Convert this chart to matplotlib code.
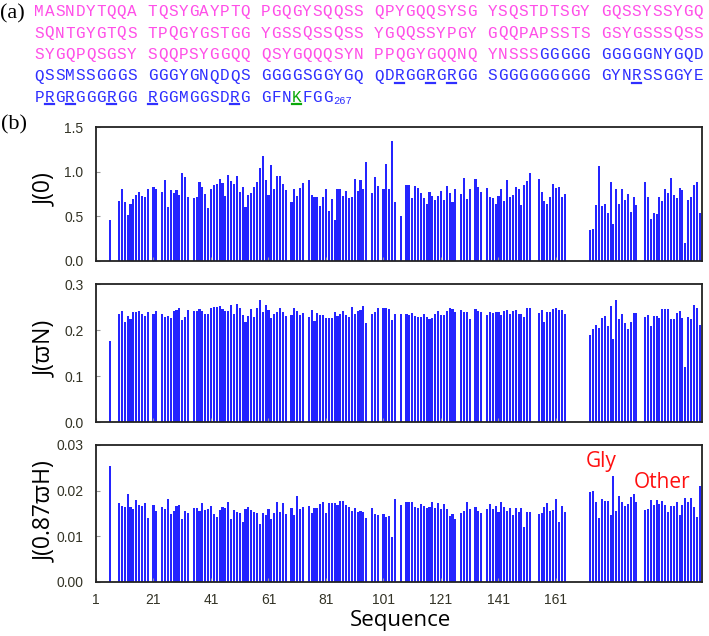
import matplotlib.pyplot as plt
from matplotlib.lines import Line2D

# ---- (a) sequence ----
seq_lines = [
    "MASNDYTQQA TQSYGAYPTQ PGQGYSQQSS QPYGQQSYSG YSQSTDTSGY GQSSYSSYGQ",
    "SQNTGYGTQS TPQGYGSTGG YGSSQSSQSS YGQQSSYPGY GQQPAPSSTS GSYGSSSQSS",
    "SYGQPQSGSY SQQPSYGGQQ QSYGQQQSYN PPQGYGQQNQ YNSSSGGGGG GGGGGNYGQD",
    "QSSMSSGGGS GGGYGNQDQS GGGGSGGYGQ QDRGGRGRGG SGGGGGGGGG GYNRSSGGYE",
    "PRGRGGGRGG RGGMGGSDRG GFNKFGG",
]
last_pink = 165
underlined = [213, 216, 218, 234, 242, 244, 248, 251, 259, 264]
green_res = 264

# ---- (b) spectral densities ----
residues = ([6] + list(range(9, 20)) + [21, 22] + list(range(24, 34))
            + list(range(35, 68)) + list(range(69, 74)) + list(range(75, 96))
            + list(range(97, 100)) + list(range(101, 106)) + [107]
            + list(range(109, 127)) + list(range(128, 132)) + list(range(133, 136))
            + list(range(137, 153)) + list(range(155, 165))
            + list(range(173, 190)) + list(range(192, 212)))

j0 = [0.46,
      0.67, 0.80, 0.66, 0.51, 0.64, 0.69, 0.74, 0.77, 0.73, 0.71, 0.80,
      0.83, 0.81,
      0.77, 0.91, 0.60, 0.79, 0.76, 0.79, 0.74, 0.99, 0.94, 0.71,
      0.70, 0.72, 0.885, 0.83, 0.75, 0.59, 0.81, 0.85, 0.86, 0.92, 0.87, 0.73,
      0.96, 0.89, 0.86, 0.955, 0.77, 0.83, 0.60, 0.74, 0.76, 0.83, 0.88, 1.04,
      1.18, 0.91, 0.74, 1.07, 0.81, 0.955, 0.955, 0.86, 0.79,
      0.66, 0.80, 0.73, 0.82, 0.87,
      0.91, 0.74, 0.72, 0.72, 0.61, 0.71, 0.80, 0.56, 0.69, 0.46, 0.80, 0.80,
      0.73, 0.78, 0.70, 0.72, 0.92, 0.78, 0.91, 0.80, 1.11,
      0.76, 0.94, 0.84,
      0.81, 1.09, 0.80, 1.35, 0.66,
      0.50,
      0.85, 0.855, 0.70, 0.84, 0.82, 0.76, 0.70, 0.64, 0.77, 0.73, 0.68, 0.73,
      0.785, 0.68, 0.84, 0.755, 0.655, 0.80,
      0.75, 0.93, 0.69, 0.80,
      0.915, 0.83, 0.77,
      0.82, 0.72, 0.70, 0.64, 0.73, 0.80, 0.67, 0.91, 0.72, 0.74, 0.83, 0.81,
      0.63, 0.845, 0.90, 0.99,
      0.92, 0.77, 0.67, 0.64, 0.71, 0.86, 0.82, 0.83, 0.715, 0.745,
      0.34, 0.36, 0.63, 1.06, 0.61, 0.64, 0.54, 0.88, 0.41, 0.80, 0.64, 0.81,
      0.685, 0.75, 0.55, 0.71, 0.63,
      0.885, 0.71, 0.47, 0.54, 0.52, 0.715, 0.67, 0.81, 0.76, 0.93, 0.74, 0.70,
      0.82, 0.79, 0.20, 0.685, 0.715, 0.845, 0.885, 0.53]

j_wn = [0.177,
        0.236, 0.242, 0.219, 0.231, 0.224, 0.239, 0.239, 0.242, 0.236, 0.231, 0.239,
        0.236, 0.241,
        0.236, 0.228, 0.232, 0.227, 0.241, 0.244, 0.248, 0.223, 0.228, 0.244,
        0.242, 0.242, 0.246, 0.241, 0.235, 0.235, 0.248, 0.251, 0.251, 0.252, 0.247,
        0.242, 0.242, 0.254, 0.235, 0.258, 0.248, 0.234, 0.217, 0.231, 0.247, 0.228,
        0.248, 0.265, 0.239, 0.254, 0.244, 0.227, 0.236, 0.240, 0.249, 0.240, 0.232,
        0.233, 0.249, 0.243, 0.233, 0.238,
        0.229, 0.244, 0.220, 0.237, 0.233, 0.233, 0.227, 0.227, 0.227, 0.239, 0.232,
        0.236, 0.243, 0.233, 0.229, 0.250, 0.236, 0.241, 0.244, 0.252, 0.215,
        0.235, 0.240, 0.248,
        0.249, 0.249, 0.246, 0.222, 0.235,
        0.235,
        0.236, 0.233, 0.238, 0.230, 0.228, 0.228, 0.235, 0.228, 0.224, 0.227, 0.236,
        0.241, 0.233, 0.233, 0.243, 0.249, 0.246, 0.239,
        0.245, 0.240, 0.240, 0.224,
        0.246, 0.241, 0.240,
        0.233, 0.240, 0.238, 0.239, 0.240, 0.234, 0.242, 0.244, 0.235, 0.241, 0.245,
        0.236, 0.236, 0.229, 0.249, 0.249,
        0.237, 0.245, 0.217, 0.239, 0.239, 0.246, 0.249, 0.245, 0.244, 0.236,
        0.189, 0.202, 0.211, 0.205, 0.226, 0.231, 0.209, 0.252, 0.181, 0.265, 0.224,
        0.236, 0.216, 0.202, 0.217, 0.237, 0.237,
        0.228, 0.233, 0.209, 0.232, 0.232, 0.227, 0.247, 0.246, 0.246, 0.225, 0.225,
        0.237, 0.241, 0.226, 0.121, 0.228, 0.225, 0.254, 0.249, 0.212]

j_wh = [0.0254,
        0.0173, 0.0166, 0.0165, 0.0193, 0.0164, 0.0159, 0.0179, 0.0168, 0.0166, 0.0172, 0.0140,
        0.0168, 0.0155,
        0.0165, 0.0160, 0.0181, 0.0149, 0.0155, 0.0166, 0.0168, 0.0138, 0.0155, 0.0150,
        0.0162, 0.0162, 0.0156, 0.0173, 0.0158, 0.0159, 0.0166, 0.0149, 0.0142, 0.0157,
        0.0164, 0.0162, 0.0174, 0.0138, 0.0157, 0.0152, 0.0151, 0.0131, 0.0159, 0.0165,
        0.0158, 0.0153, 0.0150, 0.0127, 0.0150, 0.0146, 0.0159, 0.0137, 0.0151, 0.0176,
        0.0154, 0.0173, 0.0148,
        0.0161, 0.0146, 0.0188, 0.0159, 0.0164,
        0.0166, 0.0151, 0.0162, 0.0162, 0.0170, 0.0176, 0.0151, 0.0173, 0.0173, 0.0172,
        0.0168, 0.0177, 0.0177, 0.0168, 0.0163, 0.0155, 0.0162, 0.0152, 0.0155, 0.0154,
        0.0139,
        0.0161, 0.0149, 0.0147,
        0.0148, 0.0143, 0.0145, 0.0098, 0.0181,
        0.0168,
        0.0175, 0.0176, 0.0176, 0.0164, 0.0161, 0.0171, 0.0166, 0.0161, 0.0165, 0.0176,
        0.0162, 0.0172, 0.0160, 0.0170, 0.0159, 0.0145, 0.0149, 0.0138,
        0.0150, 0.0155, 0.0174, 0.0159,
        0.0163, 0.0155, 0.0151,
        0.0160, 0.0170, 0.0160, 0.0166, 0.0154, 0.0175, 0.0165, 0.0155, 0.0161, 0.0146,
        0.0161, 0.0154, 0.0162, 0.0120, 0.0152, 0.0152,
        0.0149, 0.0150, 0.0165, 0.0172, 0.0155, 0.0158, 0.0182, 0.0131, 0.0166, 0.0153,
        0.0197, 0.0200, 0.0176, 0.0140, 0.0181, 0.0178, 0.0178, 0.0146, 0.0231, 0.0155,
        0.0189, 0.0176, 0.0166, 0.0170, 0.0185, 0.0192, 0.0174,
        0.0157, 0.0160, 0.0180, 0.0169, 0.0180, 0.0170, 0.0178, 0.0168, 0.0154, 0.0166,
        0.0166, 0.0176, 0.0146, 0.0168, 0.0184, 0.0174, 0.0184, 0.0163, 0.0142, 0.0210]

xtick_vals = [1, 21, 41, 61, 81, 101, 121, 141, 161]

W, H = 709, 636
PINK, BLUE, GREEN = '#ff4fe8', '#2f2fff', '#0aa80a'
BAR = '#2424ff'
TICK_TXT = '#333326'


def fx(x):
    return x / W


def fy(y):
    return 1 - y / H


fig = plt.figure(figsize=(W / 100, H / 100), dpi=100)

# sequence text, one character per monospaced cell
x0, cw = 34, 10.3
baselines = [16, 37.5, 59, 80.5, 102]
res = 0
for line, yb in zip(seq_lines, baselines):
    for j, ch in enumerate(line):
        if ch == ' ':
            continue
        res += 1
        if res == green_res:
            col = GREEN
        elif res <= last_pink:
            col = PINK
        else:
            col = BLUE
        xc = x0 + (j + 0.5) * cw
        fig.text(fx(xc), fy(yb), ch, color=col, family='Liberation Mono',
                 fontsize=11.5, ha='center', va='baseline')
        if res in underlined:
            fig.add_artist(Line2D([fx(xc - 4.5), fx(xc + 4.5)], [fy(yb + 2.2)] * 2,
                                  color=col, lw=1.6, transform=fig.transFigure))
fig.text(fx(x0 + len(seq_lines[-1]) * cw + 1), fy(104.5), '267', color=BLUE,
         family='Liberation Mono', fontsize=7.5, va='baseline')

fig.text(fx(0), fy(18), '(a)', family='Liberation Serif', fontsize=16, va='baseline')
fig.text(fx(1), fy(129), '(b)', family='Liberation Serif', fontsize=16, va='baseline')

# panels: data, label, ylim, ticks, fmt, top px, bottom px, label y px
panels = [
    (j0, 'J(0)', 1.5, [0.0, 0.5, 1.0, 1.5], '{:.1f}', 127.3, 260.5, 190),
    (j_wn, 'J(\u03d6N)', 0.3, [0.0, 0.1, 0.2, 0.3], '{:.1f}', 284.3, 422.3, 349),
    (j_wh, 'J(0.87\u03d6H)', 0.03, [0.0, 0.01, 0.02, 0.03], '{:.2f}', 445.0, 581.7, 512),
]

left, right = 96, 702
axes = []
for vals, lab, ymax, yt, fmt, top, bot, ly in panels:
    ax = fig.add_axes([fx(left), fy(bot), (right - left) / W, (bot - top) / H])
    ax.bar(residues, vals, width=0.72, color=BAR, linewidth=0)
    ax.set_xlim(2.3, 211.8)
    ax.set_ylim(0, ymax)
    ax.set_yticks(yt)
    ax.set_yticklabels([fmt.format(t) for t in yt], family='Liberation Sans',
                       fontsize=10, color=TICK_TXT)
    ax.set_xticks(xtick_vals)
    ax.set_xticklabels([])
    ax.tick_params(direction='in', length=3, width=0.8, color='#999999', pad=9)
    for sp in ax.spines.values():
        sp.set_color('#222222')
        sp.set_linewidth(1.3)
    fig.text(fx(45), fy(ly), lab, rotation=90, ha='center', va='center',
             family=['Open Sans', 'DejaVu Sans'], fontsize=16.5)
    axes.append(ax)

axb = axes[-1]
axb.set_xticklabels([str(v) for v in xtick_vals], family='Liberation Sans',
                    fontsize=10, color=TICK_TXT)
axb.tick_params(axis='x', pad=8)

fig.text(fx(400), fy(626), 'Sequence', ha='center', va='baseline',
         family='Open Sans', fontsize=16)
fig.text(fx(586), fy(467), 'Gly', color='#ff1010', family='Open Sans',
         fontsize=15, va='baseline')
fig.text(fx(634), fy(488), 'Other', color='#ff1010', family='Open Sans',
         fontsize=15, va='baseline')

fig.savefig('out.png', dpi=100)
